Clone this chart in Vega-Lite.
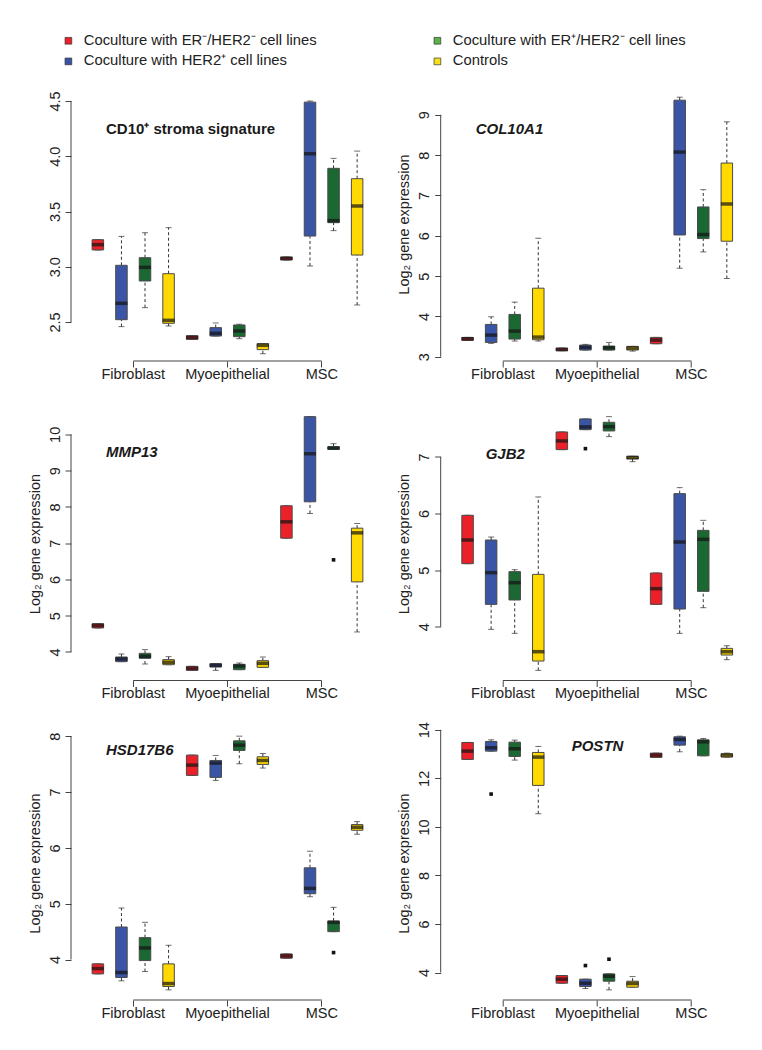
{
"$schema": "https://vega.github.io/schema/vega-lite/v6.json",
"padding": {"left": 27, "top": 33, "right": 4, "bottom": 4},
"bounds": "flush",
"columns": 2,
"spacing": {"row": 45.5, "column": 56.7},
"datasets": {
"boxes": [
{"panel":"P1","cell":"Fibroblast","group":"Coculture with ER⁻/HER2⁻ cell lines","lower":3.152,"q1":3.152,"median":3.2,"q3":3.245,"upper":3.245},
{"panel":"P1","cell":"Fibroblast","group":"Coculture with HER2⁺ cell lines","lower":2.458,"q1":2.521,"median":2.669,"q3":3.013,"upper":3.275},
{"panel":"P1","cell":"Fibroblast","group":"Coculture with ER⁺/HER2⁻ cell lines","lower":2.63,"q1":2.871,"median":2.995,"q3":3.082,"upper":3.308},
{"panel":"P1","cell":"Fibroblast","group":"Controls","lower":2.464,"q1":2.488,"median":2.515,"q3":2.937,"upper":3.354},
{"panel":"P1","cell":"Myoepithelial","group":"Coculture with ER⁻/HER2⁻ cell lines","lower":2.343,"q1":2.343,"median":2.36,"q3":2.376,"upper":2.376},
{"panel":"P1","cell":"Myoepithelial","group":"Coculture with HER2⁺ cell lines","lower":2.373,"q1":2.373,"median":2.397,"q3":2.449,"upper":2.491},
{"panel":"P1","cell":"Myoepithelial","group":"Coculture with ER⁺/HER2⁻ cell lines","lower":2.349,"q1":2.367,"median":2.419,"q3":2.473,"upper":2.48},
{"panel":"P1","cell":"Myoepithelial","group":"Controls","lower":2.213,"q1":2.25,"median":2.289,"q3":2.304,"upper":2.304},
{"panel":"P1","cell":"MSC","group":"Coculture with ER⁻/HER2⁻ cell lines","lower":3.061,"q1":3.061,"median":3.076,"q3":3.088,"upper":3.088},
{"panel":"P1","cell":"MSC","group":"Coculture with HER2⁺ cell lines","lower":3.007,"q1":3.278,"median":4.023,"q3":4.49,"upper":4.5},
{"panel":"P1","cell":"MSC","group":"Coculture with ER⁺/HER2⁻ cell lines","lower":3.327,"q1":3.399,"median":3.417,"q3":3.891,"upper":3.981},
{"panel":"P1","cell":"MSC","group":"Controls","lower":2.654,"q1":3.106,"median":3.55,"q3":3.797,"upper":4.047},
{"panel":"P2","cell":"Fibroblast","group":"Coculture with ER⁻/HER2⁻ cell lines","lower":3.406,"q1":3.406,"median":3.447,"q3":3.48,"upper":3.48},
{"panel":"P2","cell":"Fibroblast","group":"Coculture with HER2⁺ cell lines","lower":3.332,"q1":3.356,"median":3.538,"q3":3.802,"upper":3.992},
{"panel":"P2","cell":"Fibroblast","group":"Coculture with ER⁺/HER2⁻ cell lines","lower":3.39,"q1":3.439,"median":3.637,"q3":4.05,"upper":4.355},
{"panel":"P2","cell":"Fibroblast","group":"Controls","lower":3.39,"q1":3.422,"median":3.488,"q3":4.701,"upper":5.939},
{"panel":"P2","cell":"Myoepithelial","group":"Coculture with ER⁻/HER2⁻ cell lines","lower":3.15,"q1":3.15,"median":3.18,"q3":3.216,"upper":3.216},
{"panel":"P2","cell":"Myoepithelial","group":"Coculture with HER2⁺ cell lines","lower":3.167,"q1":3.167,"median":3.233,"q3":3.29,"upper":3.307},
{"panel":"P2","cell":"Myoepithelial","group":"Coculture with ER⁺/HER2⁻ cell lines","lower":3.167,"q1":3.167,"median":3.224,"q3":3.266,"upper":3.356},
{"panel":"P2","cell":"Myoepithelial","group":"Controls","lower":3.14,"q1":3.167,"median":3.216,"q3":3.257,"upper":3.257},
{"panel":"P2","cell":"MSC","group":"Coculture with ER⁻/HER2⁻ cell lines","lower":3.323,"q1":3.323,"median":3.414,"q3":3.48,"upper":3.48},
{"panel":"P2","cell":"MSC","group":"Coculture with HER2⁺ cell lines","lower":5.196,"q1":6.021,"median":8.076,"q3":9.363,"upper":9.437},
{"panel":"P2","cell":"MSC","group":"Coculture with ER⁺/HER2⁻ cell lines","lower":5.6,"q1":5.931,"median":6.03,"q3":6.715,"upper":7.144},
{"panel":"P2","cell":"MSC","group":"Controls","lower":4.941,"q1":5.865,"median":6.789,"q3":7.804,"upper":8.827},
{"panel":"P3","cell":"Fibroblast","group":"Coculture with ER⁻/HER2⁻ cell lines","lower":4.663,"q1":4.663,"median":4.727,"q3":4.782,"upper":4.782},
{"panel":"P3","cell":"Fibroblast","group":"Coculture with HER2⁺ cell lines","lower":3.734,"q1":3.734,"median":3.807,"q3":3.862,"upper":3.945},
{"panel":"P3","cell":"Fibroblast","group":"Coculture with ER⁺/HER2⁻ cell lines","lower":3.669,"q1":3.826,"median":3.881,"q3":3.963,"upper":4.065},
{"panel":"P3","cell":"Fibroblast","group":"Controls","lower":3.65,"q1":3.65,"median":3.717,"q3":3.79,"upper":3.871},
{"panel":"P3","cell":"Myoepithelial","group":"Coculture with ER⁻/HER2⁻ cell lines","lower":3.494,"q1":3.494,"median":3.549,"q3":3.604,"upper":3.604},
{"panel":"P3","cell":"Myoepithelial","group":"Coculture with HER2⁺ cell lines","lower":3.494,"q1":3.586,"median":3.632,"q3":3.678,"upper":3.678},
{"panel":"P3","cell":"Myoepithelial","group":"Coculture with ER⁺/HER2⁻ cell lines","lower":3.513,"q1":3.513,"median":3.614,"q3":3.66,"upper":3.697},
{"panel":"P3","cell":"Myoepithelial","group":"Controls","lower":3.577,"q1":3.577,"median":3.687,"q3":3.761,"upper":3.862},
{"panel":"P3","cell":"MSC","group":"Coculture with ER⁻/HER2⁻ cell lines","lower":7.138,"q1":7.138,"median":7.589,"q3":8.031,"upper":8.031},
{"panel":"P3","cell":"MSC","group":"Coculture with HER2⁺ cell lines","lower":7.819,"q1":8.141,"median":9.466,"q3":10.488,"upper":10.488},
{"panel":"P3","cell":"MSC","group":"Coculture with ER⁺/HER2⁻ cell lines","lower":9.586,"q1":9.586,"median":9.623,"q3":9.66,"upper":9.742},
{"panel":"P3","cell":"MSC","group":"Controls","lower":4.552,"q1":5.933,"median":7.285,"q3":7.414,"upper":7.543},
{"panel":"P4","cell":"Fibroblast","group":"Coculture with ER⁻/HER2⁻ cell lines","lower":5.114,"q1":5.114,"median":5.532,"q3":5.969,"upper":5.969},
{"panel":"P4","cell":"Fibroblast","group":"Coculture with HER2⁺ cell lines","lower":3.953,"q1":4.395,"median":4.955,"q3":5.532,"upper":5.585},
{"panel":"P4","cell":"Fibroblast","group":"Coculture with ER⁺/HER2⁻ cell lines","lower":3.882,"q1":4.472,"median":4.778,"q3":4.973,"upper":5.008},
{"panel":"P4","cell":"Fibroblast","group":"Controls","lower":3.228,"q1":3.393,"median":3.558,"q3":4.925,"upper":6.293},
{"panel":"P4","cell":"Myoepithelial","group":"Coculture with ER⁻/HER2⁻ cell lines","lower":7.13,"q1":7.13,"median":7.283,"q3":7.442,"upper":7.442},
{"panel":"P4","cell":"Myoepithelial","group":"Coculture with HER2⁺ cell lines","lower":7.483,"q1":7.483,"median":7.53,"q3":7.672,"upper":7.672},
{"panel":"P4","cell":"Myoepithelial","group":"Coculture with ER⁺/HER2⁻ cell lines","lower":7.36,"q1":7.46,"median":7.536,"q3":7.613,"upper":7.713},
{"panel":"P4","cell":"Myoepithelial","group":"Controls","lower":6.917,"q1":6.965,"median":6.99,"q3":7.012,"upper":7.012},
{"panel":"P4","cell":"MSC","group":"Coculture with ER⁻/HER2⁻ cell lines","lower":4.395,"q1":4.395,"median":4.672,"q3":4.949,"upper":4.949},
{"panel":"P4","cell":"MSC","group":"Coculture with HER2⁺ cell lines","lower":3.882,"q1":4.312,"median":5.497,"q3":6.352,"upper":6.458},
{"panel":"P4","cell":"MSC","group":"Coculture with ER⁺/HER2⁻ cell lines","lower":4.336,"q1":4.625,"median":5.544,"q3":5.703,"upper":5.88},
{"panel":"P4","cell":"MSC","group":"Controls","lower":3.417,"q1":3.499,"median":3.558,"q3":3.617,"upper":3.664},
{"panel":"P5","cell":"Fibroblast","group":"Coculture with ER⁻/HER2⁻ cell lines","lower":3.744,"q1":3.744,"median":3.839,"q3":3.923,"upper":3.923},
{"panel":"P5","cell":"Fibroblast","group":"Coculture with HER2⁺ cell lines","lower":3.619,"q1":3.679,"median":3.768,"q3":4.583,"upper":4.923},
{"panel":"P5","cell":"Fibroblast","group":"Coculture with ER⁺/HER2⁻ cell lines","lower":3.786,"q1":3.982,"median":4.208,"q3":4.393,"upper":4.667},
{"panel":"P5","cell":"Fibroblast","group":"Controls","lower":3.458,"q1":3.518,"median":3.571,"q3":3.923,"upper":4.256},
{"panel":"P5","cell":"Myoepithelial","group":"Coculture with ER⁻/HER2⁻ cell lines","lower":7.298,"q1":7.298,"median":7.482,"q3":7.661,"upper":7.661},
{"panel":"P5","cell":"Myoepithelial","group":"Coculture with HER2⁺ cell lines","lower":7.208,"q1":7.262,"median":7.518,"q3":7.565,"upper":7.655},
{"panel":"P5","cell":"Myoepithelial","group":"Coculture with ER⁺/HER2⁻ cell lines","lower":7.506,"q1":7.744,"median":7.839,"q3":7.917,"upper":8.0},
{"panel":"P5","cell":"Myoepithelial","group":"Controls","lower":7.429,"q1":7.494,"median":7.565,"q3":7.631,"upper":7.69},
{"panel":"P5","cell":"MSC","group":"Coculture with ER⁻/HER2⁻ cell lines","lower":4.024,"q1":4.024,"median":4.065,"q3":4.101,"upper":4.101},
{"panel":"P5","cell":"MSC","group":"Coculture with HER2⁺ cell lines","lower":5.125,"q1":5.179,"median":5.274,"q3":5.643,"upper":5.94},
{"panel":"P5","cell":"MSC","group":"Coculture with ER⁺/HER2⁻ cell lines","lower":4.5,"q1":4.5,"median":4.667,"q3":4.69,"upper":4.935},
{"panel":"P5","cell":"MSC","group":"Controls","lower":6.244,"q1":6.315,"median":6.369,"q3":6.417,"upper":6.47},
{"panel":"P6","cell":"Fibroblast","group":"Coculture with ER⁻/HER2⁻ cell lines","lower":12.779,"q1":12.779,"median":13.122,"q3":13.479,"upper":13.479},
{"panel":"P6","cell":"Fibroblast","group":"Coculture with HER2⁺ cell lines","lower":13.122,"q1":13.122,"median":13.259,"q3":13.52,"upper":13.588},
{"panel":"P6","cell":"Fibroblast","group":"Coculture with ER⁺/HER2⁻ cell lines","lower":12.752,"q1":12.903,"median":13.218,"q3":13.492,"upper":13.575},
{"panel":"P6","cell":"Fibroblast","group":"Controls","lower":10.543,"q1":11.709,"median":12.875,"q3":13.067,"upper":13.314},
{"panel":"P6","cell":"Myoepithelial","group":"Coculture with ER⁻/HER2⁻ cell lines","lower":3.561,"q1":3.561,"median":3.726,"q3":3.877,"upper":3.877},
{"panel":"P6","cell":"Myoepithelial","group":"Coculture with HER2⁺ cell lines","lower":3.342,"q1":3.424,"median":3.561,"q3":3.726,"upper":3.726},
{"panel":"P6","cell":"Myoepithelial","group":"Coculture with ER⁺/HER2⁻ cell lines","lower":3.287,"q1":3.643,"median":3.849,"q3":3.945,"upper":3.945},
{"panel":"P6","cell":"Myoepithelial","group":"Controls","lower":3.396,"q1":3.396,"median":3.547,"q3":3.643,"upper":3.835},
{"panel":"P6","cell":"MSC","group":"Coculture with ER⁻/HER2⁻ cell lines","lower":12.861,"q1":12.861,"median":12.957,"q3":13.04,"upper":13.04},
{"panel":"P6","cell":"MSC","group":"Coculture with HER2⁺ cell lines","lower":13.095,"q1":13.369,"median":13.602,"q3":13.712,"upper":13.739},
{"panel":"P6","cell":"MSC","group":"Coculture with ER⁺/HER2⁻ cell lines","lower":12.93,"q1":12.93,"median":13.506,"q3":13.588,"upper":13.643},
{"panel":"P6","cell":"MSC","group":"Controls","lower":12.875,"q1":12.875,"median":12.957,"q3":13.012,"upper":13.04}
],
"outliers": [
{"panel":"P3","cell":"MSC","group":"Coculture with ER⁺/HER2⁻ cell lines","value":6.54},
{"panel":"P4","cell":"Myoepithelial","group":"Coculture with HER2⁺ cell lines","value":7.147},
{"panel":"P5","cell":"MSC","group":"Coculture with ER⁺/HER2⁻ cell lines","value":4.125},
{"panel":"P6","cell":"Fibroblast","group":"Coculture with HER2⁺ cell lines","value":11.353},
{"panel":"P6","cell":"Myoepithelial","group":"Coculture with HER2⁺ cell lines","value":4.288},
{"panel":"P6","cell":"Myoepithelial","group":"Coculture with ER⁺/HER2⁻ cell lines","value":4.549}
]
},
"concat": [
{
"width": 313, "height": 274,
"title": {"text": "CD10⁺ stroma signature", "dx": 35, "offset": -50},
"data": {"name": "boxes"},
"transform": [{"filter": "datum.panel === 'P1'"}],
"layer": [
{"mark": {"type": "rule", "color": "#333", "strokeWidth": 1, "strokeDash": [3, 2.5]},
 "encoding": {"x": {"field": "cell", "type": "nominal", "scale": {"domain": ["Fibroblast", "Myoepithelial", "MSC"], "paddingInner": 0, "paddingOuter": 0.16}},
  "xOffset": {"field": "group", "type": "nominal", "scale": {"domain": ["Coculture with ER⁻/HER2⁻ cell lines", "Coculture with HER2⁺ cell lines", "Coculture with ER⁺/HER2⁻ cell lines", "Controls"], "paddingInner": 0.512, "paddingOuter": 0.256}},
  "y": {"field": "q3", "type": "quantitative", "scale": {"domain": [2.147, 4.627], "nice": false, "zero": false}}, "y2": {"field": "upper"}}},
{"mark": {"type": "rule", "color": "#333", "strokeWidth": 1, "strokeDash": [3, 2.5]},
 "encoding": {"x": {"field": "cell", "type": "nominal", "scale": {"domain": ["Fibroblast", "Myoepithelial", "MSC"], "paddingInner": 0, "paddingOuter": 0.16}},
  "xOffset": {"field": "group", "type": "nominal", "scale": {"domain": ["Coculture with ER⁻/HER2⁻ cell lines", "Coculture with HER2⁺ cell lines", "Coculture with ER⁺/HER2⁻ cell lines", "Controls"], "paddingInner": 0.512, "paddingOuter": 0.256}},
  "y": {"field": "lower", "type": "quantitative", "scale": {"domain": [2.147, 4.627], "nice": false, "zero": false}}, "y2": {"field": "q1"}}},
{"mark": {"type": "tick", "orient": "horizontal", "size": 6, "thickness": 1, "color": "#333"},
 "encoding": {"x": {"field": "cell", "type": "nominal", "scale": {"domain": ["Fibroblast", "Myoepithelial", "MSC"], "paddingInner": 0, "paddingOuter": 0.16}},
  "xOffset": {"field": "group", "type": "nominal", "scale": {"domain": ["Coculture with ER⁻/HER2⁻ cell lines", "Coculture with HER2⁺ cell lines", "Coculture with ER⁺/HER2⁻ cell lines", "Controls"], "paddingInner": 0.512, "paddingOuter": 0.256}},
  "y": {"field": "upper", "type": "quantitative", "scale": {"domain": [2.147, 4.627], "nice": false, "zero": false}}}},
{"mark": {"type": "tick", "orient": "horizontal", "size": 6, "thickness": 1, "color": "#333"},
 "encoding": {"x": {"field": "cell", "type": "nominal", "scale": {"domain": ["Fibroblast", "Myoepithelial", "MSC"], "paddingInner": 0, "paddingOuter": 0.16}},
  "xOffset": {"field": "group", "type": "nominal", "scale": {"domain": ["Coculture with ER⁻/HER2⁻ cell lines", "Coculture with HER2⁺ cell lines", "Coculture with ER⁺/HER2⁻ cell lines", "Controls"], "paddingInner": 0.512, "paddingOuter": 0.256}},
  "y": {"field": "lower", "type": "quantitative", "scale": {"domain": [2.147, 4.627], "nice": false, "zero": false}}}},
{"mark": {"type": "bar", "stroke": "#4a4a4a", "strokeWidth": 1},
 "encoding": {"x": {"field": "cell", "type": "nominal", "scale": {"domain": ["Fibroblast", "Myoepithelial", "MSC"], "paddingInner": 0, "paddingOuter": 0.16}, "axis": {"title": null}},
  "xOffset": {"field": "group", "type": "nominal", "scale": {"domain": ["Coculture with ER⁻/HER2⁻ cell lines", "Coculture with HER2⁺ cell lines", "Coculture with ER⁺/HER2⁻ cell lines", "Controls"], "paddingInner": 0.512, "paddingOuter": 0.256}},
  "y": {"field": "q1", "type": "quantitative", "scale": {"domain": [2.147, 4.627], "nice": false, "zero": false}, "axis": {"values": [2.5, 3, 3.5, 4, 4.5], "format": ".1f", "title": null}}, "y2": {"field": "q3"},
  "fill": {"field": "group", "type": "nominal", "scale": {"domain": ["Coculture with ER⁻/HER2⁻ cell lines", "Coculture with HER2⁺ cell lines", "Coculture with ER⁺/HER2⁻ cell lines", "Controls"], "range": ["#EB2028", "#3A55A5", "#1B6833", "#FFD900"]}, "legend": null}}},
{"mark": {"type": "tick", "orient": "horizontal", "size": 12, "thickness": 3.5, "color": "#141414"},
 "encoding": {"x": {"field": "cell", "type": "nominal", "scale": {"domain": ["Fibroblast", "Myoepithelial", "MSC"], "paddingInner": 0, "paddingOuter": 0.16}},
  "xOffset": {"field": "group", "type": "nominal", "scale": {"domain": ["Coculture with ER⁻/HER2⁻ cell lines", "Coculture with HER2⁺ cell lines", "Coculture with ER⁺/HER2⁻ cell lines", "Controls"], "paddingInner": 0.512, "paddingOuter": 0.256}},
  "y": {"field": "median", "type": "quantitative", "scale": {"domain": [2.147, 4.627], "nice": false, "zero": false}}}},
{"mark": {"type": "point", "shape": "square", "filled": true, "opacity": 0},
 "encoding": {"x": {"field": "cell", "type": "nominal", "scale": {"domain": ["Fibroblast", "Myoepithelial", "MSC"], "paddingInner": 0, "paddingOuter": 0.16}},
  "xOffset": {"field": "group", "type": "nominal", "scale": {"domain": ["Coculture with ER⁻/HER2⁻ cell lines", "Coculture with HER2⁺ cell lines", "Coculture with ER⁺/HER2⁻ cell lines", "Controls"], "paddingInner": 0.512, "paddingOuter": 0.256}},
  "y": {"field": "median", "type": "quantitative", "scale": {"domain": [2.147, 4.627], "nice": false, "zero": false}},
  "color": {"field": "group", "type": "nominal", "scale": {"domain": ["Coculture with ER⁻/HER2⁻ cell lines", "Coculture with ER⁺/HER2⁻ cell lines", "Coculture with HER2⁺ cell lines", "Controls"], "range": ["#E8202A", "#5BB449", "#3953A4", "#F7E017"]},
   "legend": {"orient": "none", "legendX": -10, "legendY": -54, "direction": "horizontal", "columns": 2, "title": null, "padding": 0, "symbolType": "square", "symbolSize": 45, "symbolOpacity": 1, "symbolStrokeColor": "#333", "symbolStrokeWidth": 0.7, "labelFont": "Liberation Sans", "labelFontSize": 14.8, "labelColor": "#222", "labelOffset": 8, "labelLimit": 0, "rowPadding": 5, "columnPadding": 113}}}},
{"data": {"values": [{}]}, "mark": {"type": "rule", "color": "#444", "strokeWidth": 1},
 "encoding": {"x": {"datum": "Fibroblast", "type": "nominal", "bandPosition": 0.5, "scale": {"domain": ["Fibroblast", "Myoepithelial", "MSC"], "paddingInner": 0, "paddingOuter": 0.16}}, "x2": {"datum": "MSC", "bandPosition": 0.5},
  "y": {"datum": 2.147, "type": "quantitative", "scale": {"domain": [2.147, 4.627], "nice": false, "zero": false}}}},
{"data": {"values": [{}]}, "mark": {"type": "rule", "color": "#444", "strokeWidth": 1},
 "encoding": {"x": {"value": 0}, "y": {"datum": 2.5, "type": "quantitative", "scale": {"domain": [2.147, 4.627], "nice": false, "zero": false}}, "y2": {"datum": 4.5}}}
]
},
{
"width": 313, "height": 274,
"title": {"text": "COL10A1", "fontStyle": "italic", "dx": 35, "offset": -50},
"data": {"name": "boxes"},
"transform": [{"filter": "datum.panel === 'P2'"}],
"layer": [
{"mark": {"type": "rule", "color": "#333", "strokeWidth": 1, "strokeDash": [3, 2.5]},
 "encoding": {"x": {"field": "cell", "type": "nominal", "scale": {"domain": ["Fibroblast", "Myoepithelial", "MSC"], "paddingInner": 0, "paddingOuter": 0.16}},
  "xOffset": {"field": "group", "type": "nominal", "scale": {"domain": ["Coculture with ER⁻/HER2⁻ cell lines", "Coculture with HER2⁺ cell lines", "Coculture with ER⁺/HER2⁻ cell lines", "Controls"], "paddingInner": 0.512, "paddingOuter": 0.256}},
  "y": {"field": "q3", "type": "quantitative", "scale": {"domain": [2.895, 9.69], "nice": false, "zero": false}}, "y2": {"field": "upper"}}},
{"mark": {"type": "rule", "color": "#333", "strokeWidth": 1, "strokeDash": [3, 2.5]},
 "encoding": {"x": {"field": "cell", "type": "nominal", "scale": {"domain": ["Fibroblast", "Myoepithelial", "MSC"], "paddingInner": 0, "paddingOuter": 0.16}},
  "xOffset": {"field": "group", "type": "nominal", "scale": {"domain": ["Coculture with ER⁻/HER2⁻ cell lines", "Coculture with HER2⁺ cell lines", "Coculture with ER⁺/HER2⁻ cell lines", "Controls"], "paddingInner": 0.512, "paddingOuter": 0.256}},
  "y": {"field": "lower", "type": "quantitative", "scale": {"domain": [2.895, 9.69], "nice": false, "zero": false}}, "y2": {"field": "q1"}}},
{"mark": {"type": "tick", "orient": "horizontal", "size": 6, "thickness": 1, "color": "#333"},
 "encoding": {"x": {"field": "cell", "type": "nominal", "scale": {"domain": ["Fibroblast", "Myoepithelial", "MSC"], "paddingInner": 0, "paddingOuter": 0.16}},
  "xOffset": {"field": "group", "type": "nominal", "scale": {"domain": ["Coculture with ER⁻/HER2⁻ cell lines", "Coculture with HER2⁺ cell lines", "Coculture with ER⁺/HER2⁻ cell lines", "Controls"], "paddingInner": 0.512, "paddingOuter": 0.256}},
  "y": {"field": "upper", "type": "quantitative", "scale": {"domain": [2.895, 9.69], "nice": false, "zero": false}}}},
{"mark": {"type": "tick", "orient": "horizontal", "size": 6, "thickness": 1, "color": "#333"},
 "encoding": {"x": {"field": "cell", "type": "nominal", "scale": {"domain": ["Fibroblast", "Myoepithelial", "MSC"], "paddingInner": 0, "paddingOuter": 0.16}},
  "xOffset": {"field": "group", "type": "nominal", "scale": {"domain": ["Coculture with ER⁻/HER2⁻ cell lines", "Coculture with HER2⁺ cell lines", "Coculture with ER⁺/HER2⁻ cell lines", "Controls"], "paddingInner": 0.512, "paddingOuter": 0.256}},
  "y": {"field": "lower", "type": "quantitative", "scale": {"domain": [2.895, 9.69], "nice": false, "zero": false}}}},
{"mark": {"type": "bar", "stroke": "#4a4a4a", "strokeWidth": 1},
 "encoding": {"x": {"field": "cell", "type": "nominal", "scale": {"domain": ["Fibroblast", "Myoepithelial", "MSC"], "paddingInner": 0, "paddingOuter": 0.16}, "axis": {"title": null}},
  "xOffset": {"field": "group", "type": "nominal", "scale": {"domain": ["Coculture with ER⁻/HER2⁻ cell lines", "Coculture with HER2⁺ cell lines", "Coculture with ER⁺/HER2⁻ cell lines", "Controls"], "paddingInner": 0.512, "paddingOuter": 0.256}},
  "y": {"field": "q1", "type": "quantitative", "scale": {"domain": [2.895, 9.69], "nice": false, "zero": false}, "axis": {"values": [3, 4, 5, 6, 7, 8, 9], "format": "d", "title": "Log₂ gene expression"}}, "y2": {"field": "q3"},
  "fill": {"field": "group", "type": "nominal", "scale": {"domain": ["Coculture with ER⁻/HER2⁻ cell lines", "Coculture with HER2⁺ cell lines", "Coculture with ER⁺/HER2⁻ cell lines", "Controls"], "range": ["#EB2028", "#3A55A5", "#1B6833", "#FFD900"]}, "legend": null}}},
{"mark": {"type": "tick", "orient": "horizontal", "size": 12, "thickness": 3.5, "color": "#141414"},
 "encoding": {"x": {"field": "cell", "type": "nominal", "scale": {"domain": ["Fibroblast", "Myoepithelial", "MSC"], "paddingInner": 0, "paddingOuter": 0.16}},
  "xOffset": {"field": "group", "type": "nominal", "scale": {"domain": ["Coculture with ER⁻/HER2⁻ cell lines", "Coculture with HER2⁺ cell lines", "Coculture with ER⁺/HER2⁻ cell lines", "Controls"], "paddingInner": 0.512, "paddingOuter": 0.256}},
  "y": {"field": "median", "type": "quantitative", "scale": {"domain": [2.895, 9.69], "nice": false, "zero": false}}}},
{"data": {"values": [{}]}, "mark": {"type": "rule", "color": "#444", "strokeWidth": 1},
 "encoding": {"x": {"datum": "Fibroblast", "type": "nominal", "bandPosition": 0.5, "scale": {"domain": ["Fibroblast", "Myoepithelial", "MSC"], "paddingInner": 0, "paddingOuter": 0.16}}, "x2": {"datum": "MSC", "bandPosition": 0.5},
  "y": {"datum": 2.895, "type": "quantitative", "scale": {"domain": [2.895, 9.69], "nice": false, "zero": false}}}},
{"data": {"values": [{}]}, "mark": {"type": "rule", "color": "#444", "strokeWidth": 1},
 "encoding": {"x": {"value": 0}, "y": {"datum": 3, "type": "quantitative", "scale": {"domain": [2.895, 9.69], "nice": false, "zero": false}}, "y2": {"datum": 9}}}
]
},
{
"width": 313, "height": 274,
"title": {"text": "MMP13", "fontStyle": "italic", "dx": 35, "offset": -53},
"data": {"name": "boxes"},
"transform": [{"filter": "datum.panel === 'P3'"}],
"layer": [
{"mark": {"type": "rule", "color": "#333", "strokeWidth": 1, "strokeDash": [3, 2.5]},
 "encoding": {"x": {"field": "cell", "type": "nominal", "scale": {"domain": ["Fibroblast", "Myoepithelial", "MSC"], "paddingInner": 0, "paddingOuter": 0.16}},
  "xOffset": {"field": "group", "type": "nominal", "scale": {"domain": ["Coculture with ER⁻/HER2⁻ cell lines", "Coculture with HER2⁺ cell lines", "Coculture with ER⁺/HER2⁻ cell lines", "Controls"], "paddingInner": 0.512, "paddingOuter": 0.256}},
  "y": {"field": "q3", "type": "quantitative", "scale": {"domain": [3.214, 10.768], "nice": false, "zero": false}}, "y2": {"field": "upper"}}},
{"mark": {"type": "rule", "color": "#333", "strokeWidth": 1, "strokeDash": [3, 2.5]},
 "encoding": {"x": {"field": "cell", "type": "nominal", "scale": {"domain": ["Fibroblast", "Myoepithelial", "MSC"], "paddingInner": 0, "paddingOuter": 0.16}},
  "xOffset": {"field": "group", "type": "nominal", "scale": {"domain": ["Coculture with ER⁻/HER2⁻ cell lines", "Coculture with HER2⁺ cell lines", "Coculture with ER⁺/HER2⁻ cell lines", "Controls"], "paddingInner": 0.512, "paddingOuter": 0.256}},
  "y": {"field": "lower", "type": "quantitative", "scale": {"domain": [3.214, 10.768], "nice": false, "zero": false}}, "y2": {"field": "q1"}}},
{"mark": {"type": "tick", "orient": "horizontal", "size": 6, "thickness": 1, "color": "#333"},
 "encoding": {"x": {"field": "cell", "type": "nominal", "scale": {"domain": ["Fibroblast", "Myoepithelial", "MSC"], "paddingInner": 0, "paddingOuter": 0.16}},
  "xOffset": {"field": "group", "type": "nominal", "scale": {"domain": ["Coculture with ER⁻/HER2⁻ cell lines", "Coculture with HER2⁺ cell lines", "Coculture with ER⁺/HER2⁻ cell lines", "Controls"], "paddingInner": 0.512, "paddingOuter": 0.256}},
  "y": {"field": "upper", "type": "quantitative", "scale": {"domain": [3.214, 10.768], "nice": false, "zero": false}}}},
{"mark": {"type": "tick", "orient": "horizontal", "size": 6, "thickness": 1, "color": "#333"},
 "encoding": {"x": {"field": "cell", "type": "nominal", "scale": {"domain": ["Fibroblast", "Myoepithelial", "MSC"], "paddingInner": 0, "paddingOuter": 0.16}},
  "xOffset": {"field": "group", "type": "nominal", "scale": {"domain": ["Coculture with ER⁻/HER2⁻ cell lines", "Coculture with HER2⁺ cell lines", "Coculture with ER⁺/HER2⁻ cell lines", "Controls"], "paddingInner": 0.512, "paddingOuter": 0.256}},
  "y": {"field": "lower", "type": "quantitative", "scale": {"domain": [3.214, 10.768], "nice": false, "zero": false}}}},
{"mark": {"type": "bar", "stroke": "#4a4a4a", "strokeWidth": 1},
 "encoding": {"x": {"field": "cell", "type": "nominal", "scale": {"domain": ["Fibroblast", "Myoepithelial", "MSC"], "paddingInner": 0, "paddingOuter": 0.16}, "axis": {"title": null}},
  "xOffset": {"field": "group", "type": "nominal", "scale": {"domain": ["Coculture with ER⁻/HER2⁻ cell lines", "Coculture with HER2⁺ cell lines", "Coculture with ER⁺/HER2⁻ cell lines", "Controls"], "paddingInner": 0.512, "paddingOuter": 0.256}},
  "y": {"field": "q1", "type": "quantitative", "scale": {"domain": [3.214, 10.768], "nice": false, "zero": false}, "axis": {"values": [4, 5, 6, 7, 8, 9, 10], "format": "d", "title": "Log₂ gene expression"}}, "y2": {"field": "q3"},
  "fill": {"field": "group", "type": "nominal", "scale": {"domain": ["Coculture with ER⁻/HER2⁻ cell lines", "Coculture with HER2⁺ cell lines", "Coculture with ER⁺/HER2⁻ cell lines", "Controls"], "range": ["#EB2028", "#3A55A5", "#1B6833", "#FFD900"]}, "legend": null}}},
{"mark": {"type": "tick", "orient": "horizontal", "size": 12, "thickness": 3.5, "color": "#141414"},
 "encoding": {"x": {"field": "cell", "type": "nominal", "scale": {"domain": ["Fibroblast", "Myoepithelial", "MSC"], "paddingInner": 0, "paddingOuter": 0.16}},
  "xOffset": {"field": "group", "type": "nominal", "scale": {"domain": ["Coculture with ER⁻/HER2⁻ cell lines", "Coculture with HER2⁺ cell lines", "Coculture with ER⁺/HER2⁻ cell lines", "Controls"], "paddingInner": 0.512, "paddingOuter": 0.256}},
  "y": {"field": "median", "type": "quantitative", "scale": {"domain": [3.214, 10.768], "nice": false, "zero": false}}}},
{"data": {"name": "outliers"}, "transform": [{"filter": "datum.panel === 'P3'"}],
 "mark": {"type": "point", "shape": "square", "filled": true, "size": 13, "color": "#111", "opacity": 1},
 "encoding": {"x": {"field": "cell", "type": "nominal", "scale": {"domain": ["Fibroblast", "Myoepithelial", "MSC"], "paddingInner": 0, "paddingOuter": 0.16}},
  "xOffset": {"field": "group", "type": "nominal", "scale": {"domain": ["Coculture with ER⁻/HER2⁻ cell lines", "Coculture with HER2⁺ cell lines", "Coculture with ER⁺/HER2⁻ cell lines", "Controls"], "paddingInner": 0.512, "paddingOuter": 0.256}},
  "y": {"field": "value", "type": "quantitative", "scale": {"domain": [3.214, 10.768], "nice": false, "zero": false}}}},
{"data": {"values": [{}]}, "mark": {"type": "rule", "color": "#444", "strokeWidth": 1},
 "encoding": {"x": {"datum": "Fibroblast", "type": "nominal", "bandPosition": 0.5, "scale": {"domain": ["Fibroblast", "Myoepithelial", "MSC"], "paddingInner": 0, "paddingOuter": 0.16}}, "x2": {"datum": "MSC", "bandPosition": 0.5},
  "y": {"datum": 3.214, "type": "quantitative", "scale": {"domain": [3.214, 10.768], "nice": false, "zero": false}}}},
{"data": {"values": [{}]}, "mark": {"type": "rule", "color": "#444", "strokeWidth": 1},
 "encoding": {"x": {"value": 0}, "y": {"datum": 4, "type": "quantitative", "scale": {"domain": [3.214, 10.768], "nice": false, "zero": false}}, "y2": {"datum": 10}}}
]
},
{
"width": 313, "height": 274,
"title": {"text": "GJB2", "fontStyle": "italic", "dx": 45, "offset": -55},
"data": {"name": "boxes"},
"transform": [{"filter": "datum.panel === 'P4'"}],
"layer": [
{"mark": {"type": "rule", "color": "#333", "strokeWidth": 1, "strokeDash": [3, 2.5]},
 "encoding": {"x": {"field": "cell", "type": "nominal", "scale": {"domain": ["Fibroblast", "Myoepithelial", "MSC"], "paddingInner": 0, "paddingOuter": 0.16}},
  "xOffset": {"field": "group", "type": "nominal", "scale": {"domain": ["Coculture with ER⁻/HER2⁻ cell lines", "Coculture with HER2⁺ cell lines", "Coculture with ER⁺/HER2⁻ cell lines", "Controls"], "paddingInner": 0.512, "paddingOuter": 0.256}},
  "y": {"field": "q3", "type": "quantitative", "scale": {"domain": [3.049, 7.892], "nice": false, "zero": false}}, "y2": {"field": "upper"}}},
{"mark": {"type": "rule", "color": "#333", "strokeWidth": 1, "strokeDash": [3, 2.5]},
 "encoding": {"x": {"field": "cell", "type": "nominal", "scale": {"domain": ["Fibroblast", "Myoepithelial", "MSC"], "paddingInner": 0, "paddingOuter": 0.16}},
  "xOffset": {"field": "group", "type": "nominal", "scale": {"domain": ["Coculture with ER⁻/HER2⁻ cell lines", "Coculture with HER2⁺ cell lines", "Coculture with ER⁺/HER2⁻ cell lines", "Controls"], "paddingInner": 0.512, "paddingOuter": 0.256}},
  "y": {"field": "lower", "type": "quantitative", "scale": {"domain": [3.049, 7.892], "nice": false, "zero": false}}, "y2": {"field": "q1"}}},
{"mark": {"type": "tick", "orient": "horizontal", "size": 6, "thickness": 1, "color": "#333"},
 "encoding": {"x": {"field": "cell", "type": "nominal", "scale": {"domain": ["Fibroblast", "Myoepithelial", "MSC"], "paddingInner": 0, "paddingOuter": 0.16}},
  "xOffset": {"field": "group", "type": "nominal", "scale": {"domain": ["Coculture with ER⁻/HER2⁻ cell lines", "Coculture with HER2⁺ cell lines", "Coculture with ER⁺/HER2⁻ cell lines", "Controls"], "paddingInner": 0.512, "paddingOuter": 0.256}},
  "y": {"field": "upper", "type": "quantitative", "scale": {"domain": [3.049, 7.892], "nice": false, "zero": false}}}},
{"mark": {"type": "tick", "orient": "horizontal", "size": 6, "thickness": 1, "color": "#333"},
 "encoding": {"x": {"field": "cell", "type": "nominal", "scale": {"domain": ["Fibroblast", "Myoepithelial", "MSC"], "paddingInner": 0, "paddingOuter": 0.16}},
  "xOffset": {"field": "group", "type": "nominal", "scale": {"domain": ["Coculture with ER⁻/HER2⁻ cell lines", "Coculture with HER2⁺ cell lines", "Coculture with ER⁺/HER2⁻ cell lines", "Controls"], "paddingInner": 0.512, "paddingOuter": 0.256}},
  "y": {"field": "lower", "type": "quantitative", "scale": {"domain": [3.049, 7.892], "nice": false, "zero": false}}}},
{"mark": {"type": "bar", "stroke": "#4a4a4a", "strokeWidth": 1},
 "encoding": {"x": {"field": "cell", "type": "nominal", "scale": {"domain": ["Fibroblast", "Myoepithelial", "MSC"], "paddingInner": 0, "paddingOuter": 0.16}, "axis": {"title": null}},
  "xOffset": {"field": "group", "type": "nominal", "scale": {"domain": ["Coculture with ER⁻/HER2⁻ cell lines", "Coculture with HER2⁺ cell lines", "Coculture with ER⁺/HER2⁻ cell lines", "Controls"], "paddingInner": 0.512, "paddingOuter": 0.256}},
  "y": {"field": "q1", "type": "quantitative", "scale": {"domain": [3.049, 7.892], "nice": false, "zero": false}, "axis": {"values": [4, 5, 6, 7], "format": "d", "title": "Log₂ gene expression"}}, "y2": {"field": "q3"},
  "fill": {"field": "group", "type": "nominal", "scale": {"domain": ["Coculture with ER⁻/HER2⁻ cell lines", "Coculture with HER2⁺ cell lines", "Coculture with ER⁺/HER2⁻ cell lines", "Controls"], "range": ["#EB2028", "#3A55A5", "#1B6833", "#FFD900"]}, "legend": null}}},
{"mark": {"type": "tick", "orient": "horizontal", "size": 12, "thickness": 3.5, "color": "#141414"},
 "encoding": {"x": {"field": "cell", "type": "nominal", "scale": {"domain": ["Fibroblast", "Myoepithelial", "MSC"], "paddingInner": 0, "paddingOuter": 0.16}},
  "xOffset": {"field": "group", "type": "nominal", "scale": {"domain": ["Coculture with ER⁻/HER2⁻ cell lines", "Coculture with HER2⁺ cell lines", "Coculture with ER⁺/HER2⁻ cell lines", "Controls"], "paddingInner": 0.512, "paddingOuter": 0.256}},
  "y": {"field": "median", "type": "quantitative", "scale": {"domain": [3.049, 7.892], "nice": false, "zero": false}}}},
{"data": {"name": "outliers"}, "transform": [{"filter": "datum.panel === 'P4'"}],
 "mark": {"type": "point", "shape": "square", "filled": true, "size": 13, "color": "#111", "opacity": 1},
 "encoding": {"x": {"field": "cell", "type": "nominal", "scale": {"domain": ["Fibroblast", "Myoepithelial", "MSC"], "paddingInner": 0, "paddingOuter": 0.16}},
  "xOffset": {"field": "group", "type": "nominal", "scale": {"domain": ["Coculture with ER⁻/HER2⁻ cell lines", "Coculture with HER2⁺ cell lines", "Coculture with ER⁺/HER2⁻ cell lines", "Controls"], "paddingInner": 0.512, "paddingOuter": 0.256}},
  "y": {"field": "value", "type": "quantitative", "scale": {"domain": [3.049, 7.892], "nice": false, "zero": false}}}},
{"data": {"values": [{}]}, "mark": {"type": "rule", "color": "#444", "strokeWidth": 1},
 "encoding": {"x": {"datum": "Fibroblast", "type": "nominal", "bandPosition": 0.5, "scale": {"domain": ["Fibroblast", "Myoepithelial", "MSC"], "paddingInner": 0, "paddingOuter": 0.16}}, "x2": {"datum": "MSC", "bandPosition": 0.5},
  "y": {"datum": 3.049, "type": "quantitative", "scale": {"domain": [3.049, 7.892], "nice": false, "zero": false}}}},
{"data": {"values": [{}]}, "mark": {"type": "rule", "color": "#444", "strokeWidth": 1},
 "encoding": {"x": {"value": 0}, "y": {"datum": 4, "type": "quantitative", "scale": {"domain": [3.049, 7.892], "nice": false, "zero": false}}, "y2": {"datum": 7}}}
]
},
{
"width": 313, "height": 274,
"title": {"text": "HSD17B6", "fontStyle": "italic", "dx": 35, "offset": -32},
"data": {"name": "boxes"},
"transform": [{"filter": "datum.panel === 'P5'"}],
"layer": [
{"mark": {"type": "rule", "color": "#333", "strokeWidth": 1, "strokeDash": [3, 2.5]},
 "encoding": {"x": {"field": "cell", "type": "nominal", "scale": {"domain": ["Fibroblast", "Myoepithelial", "MSC"], "paddingInner": 0, "paddingOuter": 0.16}},
  "xOffset": {"field": "group", "type": "nominal", "scale": {"domain": ["Coculture with ER⁻/HER2⁻ cell lines", "Coculture with HER2⁺ cell lines", "Coculture with ER⁺/HER2⁻ cell lines", "Controls"], "paddingInner": 0.512, "paddingOuter": 0.256}},
  "y": {"field": "q3", "type": "quantitative", "scale": {"domain": [3.276, 8.182], "nice": false, "zero": false}}, "y2": {"field": "upper"}}},
{"mark": {"type": "rule", "color": "#333", "strokeWidth": 1, "strokeDash": [3, 2.5]},
 "encoding": {"x": {"field": "cell", "type": "nominal", "scale": {"domain": ["Fibroblast", "Myoepithelial", "MSC"], "paddingInner": 0, "paddingOuter": 0.16}},
  "xOffset": {"field": "group", "type": "nominal", "scale": {"domain": ["Coculture with ER⁻/HER2⁻ cell lines", "Coculture with HER2⁺ cell lines", "Coculture with ER⁺/HER2⁻ cell lines", "Controls"], "paddingInner": 0.512, "paddingOuter": 0.256}},
  "y": {"field": "lower", "type": "quantitative", "scale": {"domain": [3.276, 8.182], "nice": false, "zero": false}}, "y2": {"field": "q1"}}},
{"mark": {"type": "tick", "orient": "horizontal", "size": 6, "thickness": 1, "color": "#333"},
 "encoding": {"x": {"field": "cell", "type": "nominal", "scale": {"domain": ["Fibroblast", "Myoepithelial", "MSC"], "paddingInner": 0, "paddingOuter": 0.16}},
  "xOffset": {"field": "group", "type": "nominal", "scale": {"domain": ["Coculture with ER⁻/HER2⁻ cell lines", "Coculture with HER2⁺ cell lines", "Coculture with ER⁺/HER2⁻ cell lines", "Controls"], "paddingInner": 0.512, "paddingOuter": 0.256}},
  "y": {"field": "upper", "type": "quantitative", "scale": {"domain": [3.276, 8.182], "nice": false, "zero": false}}}},
{"mark": {"type": "tick", "orient": "horizontal", "size": 6, "thickness": 1, "color": "#333"},
 "encoding": {"x": {"field": "cell", "type": "nominal", "scale": {"domain": ["Fibroblast", "Myoepithelial", "MSC"], "paddingInner": 0, "paddingOuter": 0.16}},
  "xOffset": {"field": "group", "type": "nominal", "scale": {"domain": ["Coculture with ER⁻/HER2⁻ cell lines", "Coculture with HER2⁺ cell lines", "Coculture with ER⁺/HER2⁻ cell lines", "Controls"], "paddingInner": 0.512, "paddingOuter": 0.256}},
  "y": {"field": "lower", "type": "quantitative", "scale": {"domain": [3.276, 8.182], "nice": false, "zero": false}}}},
{"mark": {"type": "bar", "stroke": "#4a4a4a", "strokeWidth": 1},
 "encoding": {"x": {"field": "cell", "type": "nominal", "scale": {"domain": ["Fibroblast", "Myoepithelial", "MSC"], "paddingInner": 0, "paddingOuter": 0.16}, "axis": {"title": null}},
  "xOffset": {"field": "group", "type": "nominal", "scale": {"domain": ["Coculture with ER⁻/HER2⁻ cell lines", "Coculture with HER2⁺ cell lines", "Coculture with ER⁺/HER2⁻ cell lines", "Controls"], "paddingInner": 0.512, "paddingOuter": 0.256}},
  "y": {"field": "q1", "type": "quantitative", "scale": {"domain": [3.276, 8.182], "nice": false, "zero": false}, "axis": {"values": [4, 5, 6, 7, 8], "format": "d", "title": "Log₂ gene expression"}}, "y2": {"field": "q3"},
  "fill": {"field": "group", "type": "nominal", "scale": {"domain": ["Coculture with ER⁻/HER2⁻ cell lines", "Coculture with HER2⁺ cell lines", "Coculture with ER⁺/HER2⁻ cell lines", "Controls"], "range": ["#EB2028", "#3A55A5", "#1B6833", "#FFD900"]}, "legend": null}}},
{"mark": {"type": "tick", "orient": "horizontal", "size": 12, "thickness": 3.5, "color": "#141414"},
 "encoding": {"x": {"field": "cell", "type": "nominal", "scale": {"domain": ["Fibroblast", "Myoepithelial", "MSC"], "paddingInner": 0, "paddingOuter": 0.16}},
  "xOffset": {"field": "group", "type": "nominal", "scale": {"domain": ["Coculture with ER⁻/HER2⁻ cell lines", "Coculture with HER2⁺ cell lines", "Coculture with ER⁺/HER2⁻ cell lines", "Controls"], "paddingInner": 0.512, "paddingOuter": 0.256}},
  "y": {"field": "median", "type": "quantitative", "scale": {"domain": [3.276, 8.182], "nice": false, "zero": false}}}},
{"data": {"name": "outliers"}, "transform": [{"filter": "datum.panel === 'P5'"}],
 "mark": {"type": "point", "shape": "square", "filled": true, "size": 13, "color": "#111", "opacity": 1},
 "encoding": {"x": {"field": "cell", "type": "nominal", "scale": {"domain": ["Fibroblast", "Myoepithelial", "MSC"], "paddingInner": 0, "paddingOuter": 0.16}},
  "xOffset": {"field": "group", "type": "nominal", "scale": {"domain": ["Coculture with ER⁻/HER2⁻ cell lines", "Coculture with HER2⁺ cell lines", "Coculture with ER⁺/HER2⁻ cell lines", "Controls"], "paddingInner": 0.512, "paddingOuter": 0.256}},
  "y": {"field": "value", "type": "quantitative", "scale": {"domain": [3.276, 8.182], "nice": false, "zero": false}}}},
{"data": {"values": [{}]}, "mark": {"type": "rule", "color": "#444", "strokeWidth": 1},
 "encoding": {"x": {"datum": "Fibroblast", "type": "nominal", "bandPosition": 0.5, "scale": {"domain": ["Fibroblast", "Myoepithelial", "MSC"], "paddingInner": 0, "paddingOuter": 0.16}}, "x2": {"datum": "MSC", "bandPosition": 0.5},
  "y": {"datum": 3.276, "type": "quantitative", "scale": {"domain": [3.276, 8.182], "nice": false, "zero": false}}}},
{"data": {"values": [{}]}, "mark": {"type": "rule", "color": "#444", "strokeWidth": 1},
 "encoding": {"x": {"value": 0}, "y": {"datum": 4, "type": "quantitative", "scale": {"domain": [3.276, 8.182], "nice": false, "zero": false}}, "y2": {"datum": 8}}}
]
},
{
"width": 313, "height": 274,
"title": {"text": "POSTN", "fontStyle": "italic", "dx": 131, "offset": -32},
"data": {"name": "boxes"},
"transform": [{"filter": "datum.panel === 'P6'"}],
"layer": [
{"mark": {"type": "rule", "color": "#333", "strokeWidth": 1, "strokeDash": [3, 2.5]},
 "encoding": {"x": {"field": "cell", "type": "nominal", "scale": {"domain": ["Fibroblast", "Myoepithelial", "MSC"], "paddingInner": 0, "paddingOuter": 0.16}},
  "xOffset": {"field": "group", "type": "nominal", "scale": {"domain": ["Coculture with ER⁻/HER2⁻ cell lines", "Coculture with HER2⁺ cell lines", "Coculture with ER⁺/HER2⁻ cell lines", "Controls"], "paddingInner": 0.512, "paddingOuter": 0.256}},
  "y": {"field": "q3", "type": "quantitative", "scale": {"domain": [2.869, 14.157], "nice": false, "zero": false}}, "y2": {"field": "upper"}}},
{"mark": {"type": "rule", "color": "#333", "strokeWidth": 1, "strokeDash": [3, 2.5]},
 "encoding": {"x": {"field": "cell", "type": "nominal", "scale": {"domain": ["Fibroblast", "Myoepithelial", "MSC"], "paddingInner": 0, "paddingOuter": 0.16}},
  "xOffset": {"field": "group", "type": "nominal", "scale": {"domain": ["Coculture with ER⁻/HER2⁻ cell lines", "Coculture with HER2⁺ cell lines", "Coculture with ER⁺/HER2⁻ cell lines", "Controls"], "paddingInner": 0.512, "paddingOuter": 0.256}},
  "y": {"field": "lower", "type": "quantitative", "scale": {"domain": [2.869, 14.157], "nice": false, "zero": false}}, "y2": {"field": "q1"}}},
{"mark": {"type": "tick", "orient": "horizontal", "size": 6, "thickness": 1, "color": "#333"},
 "encoding": {"x": {"field": "cell", "type": "nominal", "scale": {"domain": ["Fibroblast", "Myoepithelial", "MSC"], "paddingInner": 0, "paddingOuter": 0.16}},
  "xOffset": {"field": "group", "type": "nominal", "scale": {"domain": ["Coculture with ER⁻/HER2⁻ cell lines", "Coculture with HER2⁺ cell lines", "Coculture with ER⁺/HER2⁻ cell lines", "Controls"], "paddingInner": 0.512, "paddingOuter": 0.256}},
  "y": {"field": "upper", "type": "quantitative", "scale": {"domain": [2.869, 14.157], "nice": false, "zero": false}}}},
{"mark": {"type": "tick", "orient": "horizontal", "size": 6, "thickness": 1, "color": "#333"},
 "encoding": {"x": {"field": "cell", "type": "nominal", "scale": {"domain": ["Fibroblast", "Myoepithelial", "MSC"], "paddingInner": 0, "paddingOuter": 0.16}},
  "xOffset": {"field": "group", "type": "nominal", "scale": {"domain": ["Coculture with ER⁻/HER2⁻ cell lines", "Coculture with HER2⁺ cell lines", "Coculture with ER⁺/HER2⁻ cell lines", "Controls"], "paddingInner": 0.512, "paddingOuter": 0.256}},
  "y": {"field": "lower", "type": "quantitative", "scale": {"domain": [2.869, 14.157], "nice": false, "zero": false}}}},
{"mark": {"type": "bar", "stroke": "#4a4a4a", "strokeWidth": 1},
 "encoding": {"x": {"field": "cell", "type": "nominal", "scale": {"domain": ["Fibroblast", "Myoepithelial", "MSC"], "paddingInner": 0, "paddingOuter": 0.16}, "axis": {"title": null}},
  "xOffset": {"field": "group", "type": "nominal", "scale": {"domain": ["Coculture with ER⁻/HER2⁻ cell lines", "Coculture with HER2⁺ cell lines", "Coculture with ER⁺/HER2⁻ cell lines", "Controls"], "paddingInner": 0.512, "paddingOuter": 0.256}},
  "y": {"field": "q1", "type": "quantitative", "scale": {"domain": [2.869, 14.157], "nice": false, "zero": false}, "axis": {"values": [4, 6, 8, 10, 12, 14], "format": "d", "title": "Log₂ gene expression"}}, "y2": {"field": "q3"},
  "fill": {"field": "group", "type": "nominal", "scale": {"domain": ["Coculture with ER⁻/HER2⁻ cell lines", "Coculture with HER2⁺ cell lines", "Coculture with ER⁺/HER2⁻ cell lines", "Controls"], "range": ["#EB2028", "#3A55A5", "#1B6833", "#FFD900"]}, "legend": null}}},
{"mark": {"type": "tick", "orient": "horizontal", "size": 12, "thickness": 3.5, "color": "#141414"},
 "encoding": {"x": {"field": "cell", "type": "nominal", "scale": {"domain": ["Fibroblast", "Myoepithelial", "MSC"], "paddingInner": 0, "paddingOuter": 0.16}},
  "xOffset": {"field": "group", "type": "nominal", "scale": {"domain": ["Coculture with ER⁻/HER2⁻ cell lines", "Coculture with HER2⁺ cell lines", "Coculture with ER⁺/HER2⁻ cell lines", "Controls"], "paddingInner": 0.512, "paddingOuter": 0.256}},
  "y": {"field": "median", "type": "quantitative", "scale": {"domain": [2.869, 14.157], "nice": false, "zero": false}}}},
{"data": {"name": "outliers"}, "transform": [{"filter": "datum.panel === 'P6'"}],
 "mark": {"type": "point", "shape": "square", "filled": true, "size": 13, "color": "#111", "opacity": 1},
 "encoding": {"x": {"field": "cell", "type": "nominal", "scale": {"domain": ["Fibroblast", "Myoepithelial", "MSC"], "paddingInner": 0, "paddingOuter": 0.16}},
  "xOffset": {"field": "group", "type": "nominal", "scale": {"domain": ["Coculture with ER⁻/HER2⁻ cell lines", "Coculture with HER2⁺ cell lines", "Coculture with ER⁺/HER2⁻ cell lines", "Controls"], "paddingInner": 0.512, "paddingOuter": 0.256}},
  "y": {"field": "value", "type": "quantitative", "scale": {"domain": [2.869, 14.157], "nice": false, "zero": false}}}},
{"data": {"values": [{}]}, "mark": {"type": "rule", "color": "#444", "strokeWidth": 1},
 "encoding": {"x": {"datum": "Fibroblast", "type": "nominal", "bandPosition": 0.5, "scale": {"domain": ["Fibroblast", "Myoepithelial", "MSC"], "paddingInner": 0, "paddingOuter": 0.16}}, "x2": {"datum": "MSC", "bandPosition": 0.5},
  "y": {"datum": 2.869, "type": "quantitative", "scale": {"domain": [2.869, 14.157], "nice": false, "zero": false}}}},
{"data": {"values": [{}]}, "mark": {"type": "rule", "color": "#444", "strokeWidth": 1},
 "encoding": {"x": {"value": 0}, "y": {"datum": 4, "type": "quantitative", "scale": {"domain": [2.869, 14.157], "nice": false, "zero": false}}, "y2": {"datum": 14}}}
]
}
],
"config": {
"font": "Liberation Sans",
"background": "white",
"view": {"stroke": null},
"axis": {"grid": false, "domain": false, "labelFont": "Liberation Sans", "labelFontSize": 14.5, "labelColor": "#222", "titleFont": "Liberation Sans", "titleFontSize": 14.5, "titleFontWeight": "normal", "titleColor": "#222", "tickColor": "#444", "tickSize": 6, "tickWidth": 1},
"axisX": {"labelAngle": 0, "labelPadding": 0},
"axisY": {"labelAngle": -90, "labelPadding": 3, "titlePadding": 5},
"title": {"font": "Liberation Sans", "fontSize": 15, "fontWeight": "bold", "color": "#1a1a1a", "anchor": "start", "frame": "group", "baseline": "middle"}
}
}
